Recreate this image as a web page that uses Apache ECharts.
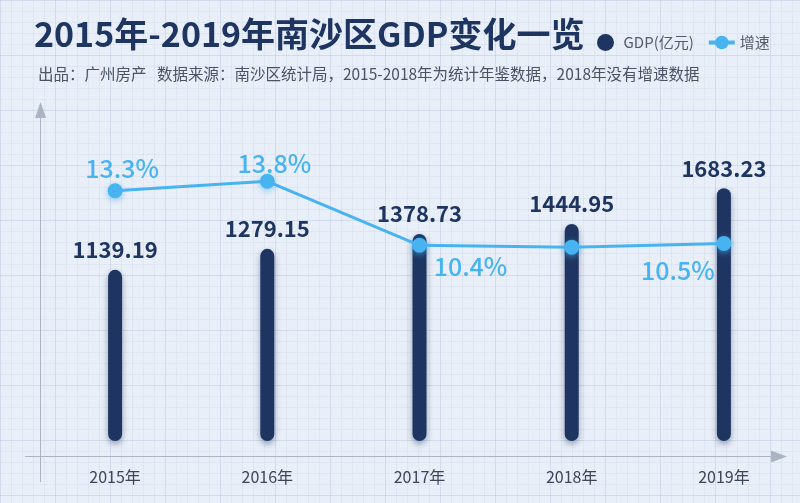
<!DOCTYPE html>
<html>
<head>
<meta charset="utf-8">
<script src="https://cdn.jsdelivr.net/npm/echarts@6/dist/echarts.min.js"></script>
<style>
html,body{margin:0;padding:0;}
body{
  width:800px;height:503px;overflow:hidden;
  background-color:#e9eff8;
  background-image:
    linear-gradient(rgba(176,192,218,0.26) 1px, transparent 1px),
    linear-gradient(90deg, rgba(176,192,218,0.26) 1px, transparent 1px),
    linear-gradient(rgba(196,208,228,0.3) 1px, transparent 1px),
    linear-gradient(90deg, rgba(196,208,228,0.3) 1px, transparent 1px);
  background-size:55px 55px,55px 55px,11px 11px,11px 11px;
}
#chart{width:800px;height:503px;}
</style>
</head>
<body>
<div id="chart"></div>
<script>
// ---- data ----
const categories = ['2015年', '2016年', '2017年', '2018年', '2019年'];
const gdpValues = [1139.19, 1279.15, 1378.73, 1444.95, 1683.23];
const growthValues = [13.3, 13.8, 10.4, 10.3, 10.5];
const growthShown = [true, true, true, false, true];
const titleText = '2015年-2019年南沙区GDP变化一览';
const subText = '出品：广州房产   数据来源：南沙区统计局，2015-2018年为统计年鉴数据，2018年没有增速数据';
const legendNames = ['GDP(亿元)', '增速'];

// ---- styles ----
const NAVY = '#1f3561';
const BLUE = '#48b3f1';
const FONT = '"Noto Sans CJK SC", "Noto Sans", sans-serif';
const growthLabelOffsets = [[7, -22], [7, -18], [51, 21], [0, 0], [-46, 27]];

const lineData = growthValues.map((v, i) => ({
  value: v,
  label: {
    show: growthShown[i],
    position: 'inside',
    offset: growthLabelOffsets[i],
    formatter: '{c}%'
  }
}));

const chart = echarts.init(document.getElementById('chart'), null, {renderer: 'canvas'});
chart.setOption({
  backgroundColor: 'transparent',
  animation: false,
  textStyle: {fontFamily: FONT},
  title: [
    {text: titleText, left: 29, top: 12,
     textStyle: {fontSize: 34, fontWeight: 'bold', color: NAVY, fontFamily: FONT}},
    {text: subText, left: 33, top: 61,
     textStyle: {fontSize: 15.5, fontWeight: 'normal', color: '#4a5263', fontFamily: FONT}}
  ],
  legend: {
    left: 592, top: 29,
    itemWidth: 26, itemHeight: 17, itemGap: 13,
    textStyle: {fontSize: 15, color: '#555c6a', fontFamily: FONT},
    data: [
      {name: legendNames[0], icon: 'circle', itemStyle: {shadowBlur: 0}},
      {name: legendNames[1], lineStyle: {width: 4}, itemStyle: {shadowBlur: 0}}
    ]
  },
  grid: {left: 39, right: -1, top: 100, bottom: 62},
  xAxis: {
    type: 'category',
    data: categories,
    axisLine: {show: false},
    axisTick: {show: false},
    axisLabel: {margin: 28, fontSize: 16, color: '#3d4659', fontFamily: FONT}
  },
  yAxis: [
    {type: 'value', min: 0, max: 2270, show: false, splitLine: {show: false}},
    {type: 'value', min: 0, max: 18.12, show: false, splitLine: {show: false}}
  ],
  graphic: [
    {type: 'line', shape: {x1: 40.5, y1: 482, x2: 40.5, y2: 110}, style: {stroke: '#aab4c3', lineWidth: 1}, silent: true},
    {type: 'polygon', shape: {points: [[40.5, 102], [35, 118], [46, 118]]}, style: {fill: '#aab4c3'}, silent: true},
    {type: 'line', shape: {x1: 25, y1: 456.5, x2: 776, y2: 456.5}, style: {stroke: '#aab4c3', lineWidth: 1}, silent: true},
    {type: 'polygon', shape: {points: [[787, 456.5], [771, 450.5], [771, 462.5]]}, style: {fill: '#aab4c3'}, silent: true}
  ],
  series: [
    {
      name: legendNames[0],
      type: 'bar',
      data: gdpValues,
      barWidth: 14,
      itemStyle: {
        color: NAVY, borderRadius: 7,
        shadowColor: 'rgba(31,53,97,0.45)', shadowBlur: 6, shadowOffsetY: 3
      },
      label: {
        show: true, position: 'top', distance: 9,
        fontSize: 22, fontWeight: 'bold', color: NAVY, fontFamily: FONT
      },
      z: 2
    },
    {
      name: legendNames[1],
      type: 'line',
      yAxisIndex: 1,
      data: lineData,
      symbol: 'circle',
      symbolSize: 15,
      lineStyle: {color: BLUE, width: 3},
      itemStyle: {color: BLUE, shadowColor: 'rgba(72,179,241,0.6)', shadowBlur: 6, shadowOffsetY: 2},
      label: {fontSize: 25, fontWeight: 500, color: BLUE, fontFamily: FONT},
      z: 3
    }
  ]
});
</script>
</body>
</html>
